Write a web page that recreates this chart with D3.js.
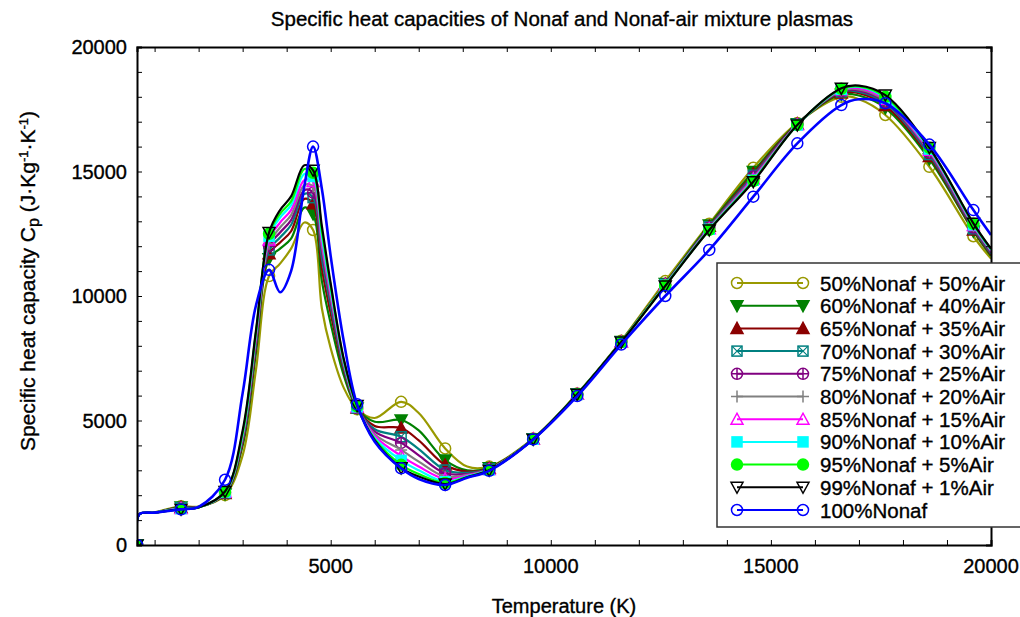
<!DOCTYPE html>
<html lang="en">
<head>
  <meta charset="UTF-8">
  <title>Specific heat capacities</title>
  <script src="https://d3js.org/d3.v7.min.js"></script>
  <style>
    body { margin: 0; background: #fff; }
    text { font-family: "Liberation Sans", Arial, sans-serif; fill: #000; stroke: #000; stroke-width: 0.35px; }
    .axis path, .axis line { stroke: #000; }
    .series { fill: none; stroke-width: 2.2px; }
  </style>
</head>
<body>
  <svg width="1020" height="617"></svg>
  <script>
// temperature knots (K)
const temps = [600, 650, 1000, 1600, 2000, 2600, 3000, 3300, 3600, 3850, 4100, 4400, 4600, 4800, 5000, 5300, 5600, 6000, 6600, 7000, 7600, 8100, 8600, 9600, 10600, 11600, 12600, 13600, 14600, 15600, 16600, 17000, 17600, 18600, 19600, 20000];
// marker temperatures
const markerTemps = [600, 1600, 2600, 3600, 4600, 5600, 6600, 7600, 8600, 9600, 10600, 11600, 12600, 13600, 14600, 15600, 16600, 17600, 18600, 19600];

const cp50 = [0, 1230, 1310, 1560, 1540, 2000, 3600, 7000, 10800, 11300, 11900, 12950, 12650, 9500, 7900, 6300, 5450, 5100, 5750, 5300, 3880, 3150, 3150, 4280, 6080, 8200, 10600, 12900, 15150, 16950, 18000, 17900, 17270, 15190, 12400, 11500];
const cp60 = [0, 1230, 1300, 1530, 1530, 2050, 4000, 7700, 11500, 11900, 12300, 13550, 13300, 10600, 8900, 6800, 5500, 4950, 5020, 4600, 3410, 3000, 3100, 4260, 6060, 8170, 10500, 12850, 15000, 16920, 18100, 18050, 17550, 15500, 12600, 11600];
const cp65 = [0, 1230, 1300, 1510, 1525, 2070, 4100, 7900, 11700, 12150, 12600, 13900, 13700, 11100, 9300, 7000, 5500, 4780, 4700, 4200, 3210, 2950, 3080, 4255, 6055, 8160, 10480, 12800, 14920, 16910, 18150, 18150, 17650, 15600, 12650, 11650];
const cp70 = [0, 1230, 1300, 1500, 1520, 2090, 4200, 8050, 11850, 12350, 12850, 14100, 13950, 11500, 9600, 7100, 5500, 4650, 4350, 3850, 3010, 2900, 3060, 4250, 6050, 8150, 10470, 12780, 14850, 16900, 18200, 18200, 17750, 15680, 12700, 11700];
const cp75 = [0, 1230, 1300, 1490, 1520, 2100, 4300, 8150, 12000, 12550, 13050, 14250, 14150, 11800, 9800, 7200, 5500, 4550, 4100, 3600, 2880, 2850, 3050, 4250, 6050, 8150, 10460, 12750, 14800, 16890, 18230, 18250, 17800, 15750, 12750, 11750];
const cp80 = [0, 1230, 1300, 1480, 1515, 2110, 4350, 8250, 12100, 12750, 13250, 14450, 14400, 12000, 9950, 7250, 5520, 4450, 3820, 3350, 2740, 2820, 3040, 4250, 6050, 8150, 10450, 12730, 14750, 16880, 18250, 18300, 17850, 15800, 12800, 11800];
const cp85 = [0, 1230, 1300, 1470, 1515, 2120, 4400, 8350, 12250, 12950, 13450, 14650, 14600, 12200, 10100, 7300, 5540, 4380, 3580, 3150, 2650, 2790, 3030, 4250, 6050, 8150, 10440, 12700, 14700, 16880, 18280, 18350, 17900, 15850, 12830, 11830];
const cp90 = [0, 1230, 1300, 1460, 1510, 2130, 4450, 8450, 12400, 13150, 13650, 14900, 14800, 12400, 10250, 7350, 5550, 4300, 3400, 3000, 2540, 2760, 3020, 4250, 6050, 8150, 10430, 12680, 14650, 16870, 18300, 18400, 17950, 15900, 12860, 11850];
const cp95 = [0, 1230, 1300, 1450, 1510, 2140, 4500, 8500, 12500, 13300, 13800, 15100, 14950, 12600, 10400, 7400, 5570, 4250, 3220, 2850, 2490, 2740, 3010, 4250, 6050, 8150, 10420, 12660, 14620, 16870, 18320, 18420, 18000, 15950, 12900, 11880];
const cp99 = [0, 1230, 1300, 1440, 1505, 2150, 4600, 8580, 12550, 13450, 14000, 15250, 15050, 12800, 10500, 7450, 5600, 4200, 3100, 2750, 2450, 2720, 3000, 4250, 6050, 8150, 10400, 12650, 14590, 16870, 18340, 18450, 18070, 15960, 12920, 11900];
const cp100 = [0, 1230, 1300, 1430, 1530, 2620, 6100, 9600, 11050, 10150, 11000, 14400, 16000, 14300, 11600, 8150, 5650, 4150, 3080, 2650, 2410, 2700, 2980, 4240, 5980, 8050, 10000, 11850, 13990, 16130, 17670, 17900, 17740, 16080, 13450, 12450];

const labels = ["50%Nonaf + 50%Air", "60%Nonaf + 40%Air", "65%Nonaf + 35%Air", "70%Nonaf + 30%Air",
  "75%Nonaf + 25%Air", "80%Nonaf + 20%Air", "85%Nonaf + 15%Air", "90%Nonaf + 10%Air",
  "95%Nonaf + 5%Air", "99%Nonaf + 1%Air", "100%Nonaf"];
const values = [cp50, cp60, cp65, cp70, cp75, cp80, cp85, cp90, cp95, cp99, cp100];
const colors = ["#999900", "#008000", "#8b0000", "#008080", "#800080", "#808080", "#ff00ff", "#00ffff", "#00ff00", "#000000", "#0000ff"];
const markers = ["circle", "triDownFill", "triUpFill", "squareX", "circlePlus", "plus", "triUpOpen", "squareFill", "circleFill", "triDownOpen", "circle"];

const xTicks = [5000, 10000, 15000, 20000];
const yTicks = [0, 5000, 10000, 15000, 20000];

const svg = d3.select("svg");
const pLeft = 137, pRight = 991, pTop = 47, pBottom = 545;

const x = d3.scaleLinear().domain([600, 20000]).range([pLeft, pRight]);
const y = d3.scaleLinear().domain([0, 20000]).range([pBottom, pTop]);

svg.append("defs").append("clipPath").attr("id", "clip")
  .append("rect").attr("x", pLeft).attr("y", pTop).attr("width", pRight - pLeft).attr("height", pBottom - pTop);

// title
svg.append("text")
  .attr("x", 562).attr("y", 26)
  .attr("text-anchor", "middle")
  .style("font-size", "20.5px")
  .text("Specific heat capacities of Nonaf and Nonaf-air mixture plasmas");

// markers
function marker(g, type, color, px, py) {
  const s = 6;
  if (type === "circle" || type === "circleFill" || type === "circlePlus") {
    g.append("circle").attr("cx", px).attr("cy", py).attr("r", 5.5)
      .attr("fill", type === "circleFill" ? color : "none")
      .attr("stroke", color).attr("stroke-width", 1.5);
    if (type === "circlePlus") {
      g.append("path").attr("d", `M${px - 5.5},${py}H${px + 5.5}M${px},${py - 5.5}V${py + 5.5}`)
        .attr("stroke", color).attr("stroke-width", 1.5);
    }
  } else if (type.startsWith("tri")) {
    const d = type.startsWith("triDown")
      ? `M${px - s},${py - 5}L${px + s},${py - 5}L${px},${py + 6}Z`
      : `M${px - s},${py + 5}L${px + s},${py + 5}L${px},${py - 6}Z`;
    const filled = type.endsWith("Fill");
    g.append("path").attr("d", d)
      .attr("fill", filled ? color : "none")
      .attr("stroke", color).attr("stroke-width", 1.5);
  } else if (type === "squareX" || type === "squareFill") {
    g.append("rect").attr("x", px - 5).attr("y", py - 5).attr("width", 10).attr("height", 10)
      .attr("fill", type === "squareFill" ? color : "none")
      .attr("stroke", color).attr("stroke-width", 1.5);
    if (type === "squareX") {
      g.append("path").attr("d", `M${px - 5},${py - 5}L${px + 5},${py + 5}M${px + 5},${py - 5}L${px - 5},${py + 5}`)
        .attr("stroke", color).attr("stroke-width", 1.2);
    }
  } else if (type === "plus") {
    g.append("path").attr("d", `M${px - 6},${py}H${px + 6}M${px},${py - 6}V${py + 6}`)
      .attr("stroke", color).attr("stroke-width", 1.5);
  }
}

const line = d3.line()
  .x(d => x(d[0]))
  .y(d => y(d[1]))
  .curve(d3.curveCatmullRom.alpha(0.5));

const plot = svg.append("g").attr("clip-path", "url(#clip)");

values.forEach((vals, i) => {
  const pts = temps.map((t, j) => [t, vals[j]]);
  plot.append("path")
    .attr("class", "series")
    .attr("d", line(pts))
    .attr("stroke", colors[i])
    .style("stroke-width", i === 10 ? "2.6px" : "2.2px");
  const mg = plot.append("g");
  markerTemps.forEach(t => {
    const j = temps.indexOf(t);
    marker(mg, markers[i], colors[i], x(t), y(vals[j]));
  });
});

// axes (ticks inside)
const minorX = d3.range(1000, 20001, 1000);
const minorY = d3.range(1000, 20001, 1000);

svg.append("g").attr("class", "axis")
  .attr("transform", `translate(0,${pBottom})`)
  .call(d3.axisBottom(x).tickValues(minorX).tickSize(-5).tickFormat(""))
  .call(g => g.select(".domain").attr("stroke-width", 2));
svg.append("g").attr("class", "axis")
  .attr("transform", `translate(0,${pTop})`)
  .call(d3.axisTop(x).tickValues(minorX).tickSize(-5).tickFormat(""))
  .call(g => g.select(".domain").attr("stroke-width", 2));
svg.append("g").attr("class", "axis")
  .attr("transform", `translate(${pLeft},0)`)
  .call(d3.axisLeft(y).tickValues(minorY).tickSize(-5).tickFormat(""))
  .call(g => g.select(".domain").attr("stroke-width", 2));
svg.append("g").attr("class", "axis")
  .attr("transform", `translate(${pRight},0)`)
  .call(d3.axisRight(y).tickValues(minorY).tickSize(-5).tickFormat(""))
  .call(g => g.select(".domain").attr("stroke-width", 2));

// tick labels
svg.append("g").selectAll("text").data(xTicks).join("text")
  .attr("x", d => x(d)).attr("y", 573)
  .attr("text-anchor", "middle")
  .style("font-size", "20px")
  .text(d => d);
svg.append("g").selectAll("text").data(yTicks).join("text")
  .attr("x", 127).attr("y", d => y(d) + 7)
  .attr("text-anchor", "end")
  .style("font-size", "20px")
  .text(d => d);

// axis titles
svg.append("text")
  .attr("x", 564).attr("y", 613)
  .attr("text-anchor", "middle")
  .style("font-size", "20px")
  .text("Temperature (K)");

const yt = svg.append("text")
  .attr("transform", "translate(35,281) rotate(-90)")
  .attr("text-anchor", "middle")
  .style("font-size", "21px");
yt.append("tspan").text("Specific heat capacity C");
yt.append("tspan").attr("baseline-shift", "-25%").style("font-size", "16px").text("p");
yt.append("tspan").text(" (J\u00b7Kg");
yt.append("tspan").attr("baseline-shift", "super").style("font-size", "13px").text("-1");
yt.append("tspan").text("\u00b7K");
yt.append("tspan").attr("baseline-shift", "super").style("font-size", "13px").text("-1");
yt.append("tspan").text(")");

// legend
const lg = svg.append("g");
lg.append("rect")
  .attr("x", 717).attr("y", 263).attr("width", 320).attr("height", 264)
  .attr("fill", "#fff").attr("stroke", "#333").attr("stroke-width", 1.5);
labels.forEach((lab, i) => {
  const ly = 283 + i * 22.7;
  lg.append("line").attr("x1", 737).attr("x2", 803).attr("y1", ly).attr("y2", ly)
    .attr("stroke", colors[i]).attr("stroke-width", 2);
  marker(lg, markers[i], colors[i], 737, ly);
  marker(lg, markers[i], colors[i], 803, ly);
  lg.append("text").attr("x", 820).attr("y", ly + 7.5)
    .style("font-size", "20.5px")
    .text(lab);
});
  </script>
</body>
</html>
